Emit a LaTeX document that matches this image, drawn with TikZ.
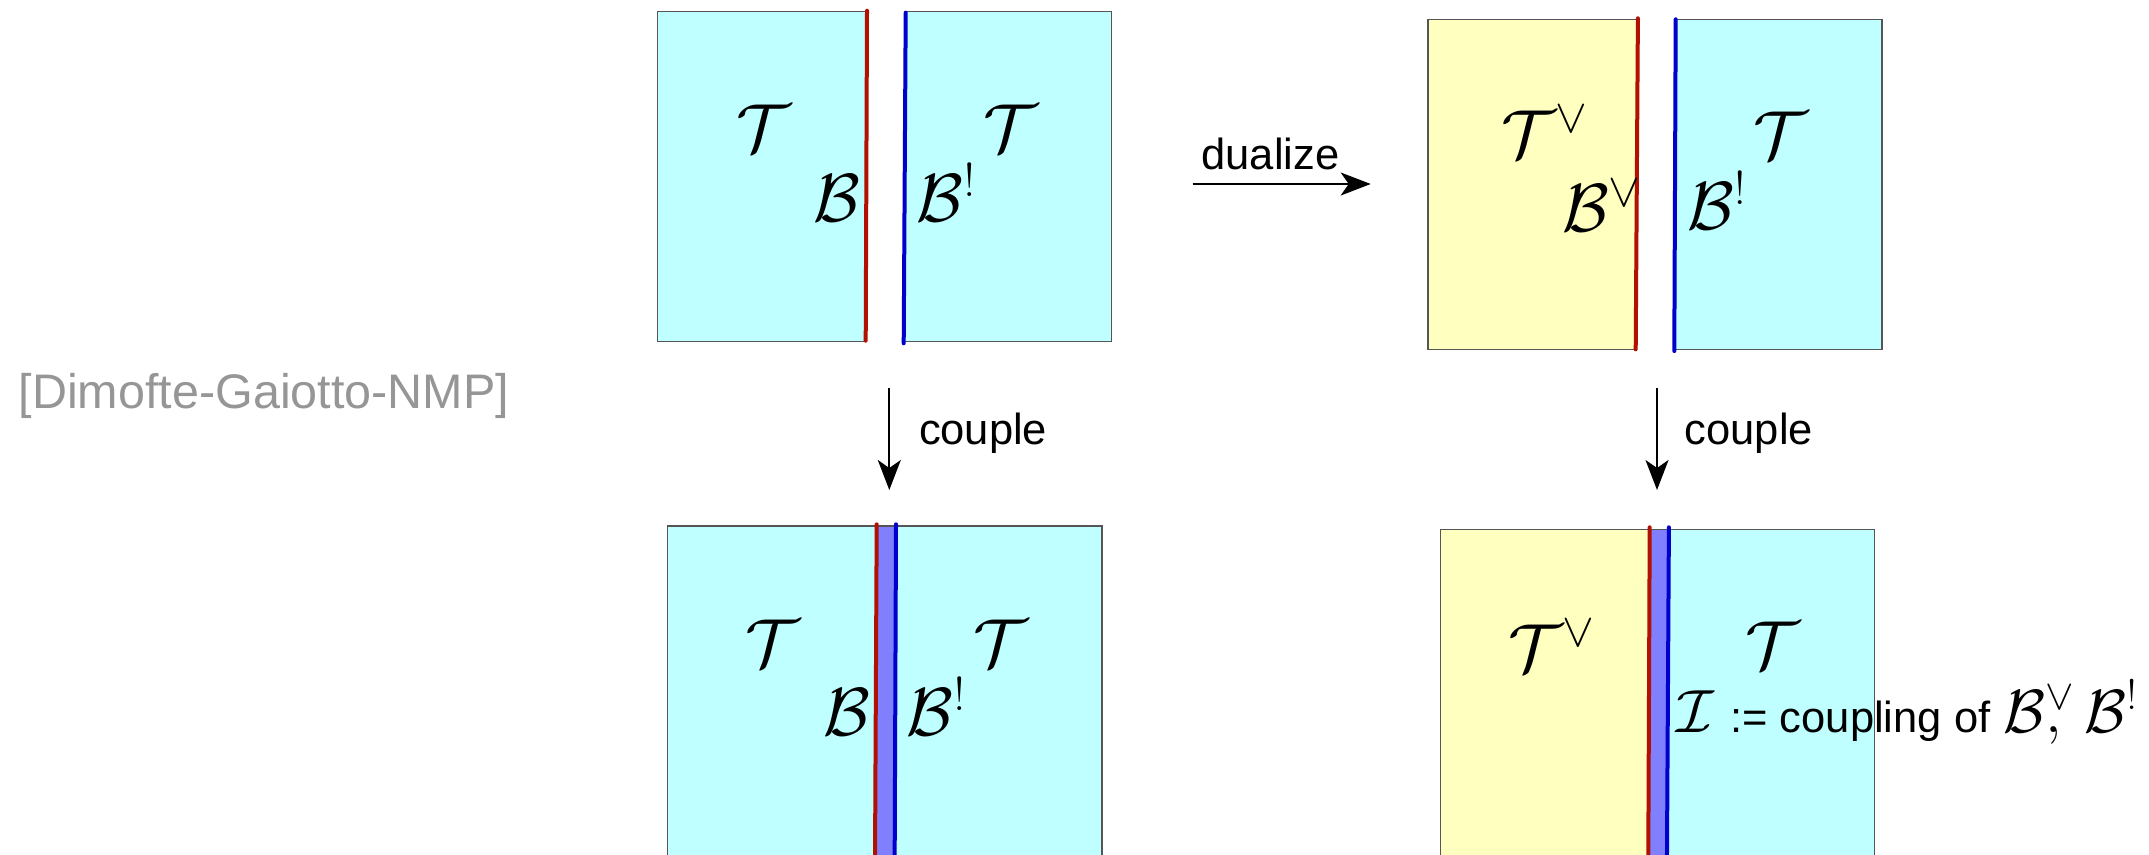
\RequirePackage{fix-cm}
\documentclass[tikz,border=0pt]{standalone}
\usepackage{fontspec}
\usetikzlibrary{arrows.meta}
\newfontfamily\labelsans{Liberation Sans}
\newcommand\mathsz{\fontsize{68}{80}\selectfont}
\newcommand\labelsz{\labelsans\fontsize{43.5}{50}\selectfont}
\definecolor{bulkcyan}{RGB}{191,255,255}
\definecolor{bulkyellow}{RGB}{255,255,192}
\definecolor{wallred}{RGB}{178,16,0}
\definecolor{wallblue}{RGB}{0,0,204}
\definecolor{slab}{RGB}{128,128,255}
\definecolor{edgegray}{RGB}{85,85,85}
\definecolor{citegray}{RGB}{150,150,150}
\tikzset{
  bulk/.style={draw=edgegray, line width=1.5pt},
  redwall/.style={draw=wallred, line width=4pt, line cap=round},
  bluewall/.style={draw=wallblue, line width=4pt, line cap=round},
  sym/.style={inner sep=0pt, outer sep=0pt, anchor=base west, font=\mathsz},
  word/.style={inner sep=0pt, outer sep=0pt, anchor=base west, font=\labelsz},
  mapto/.style={line width=2pt, -{Stealth[length=30pt, width=23pt, inset=8pt]}},
}
\begin{document}
\begin{tikzpicture}[x=1pt, y=-1pt]
\useasboundingbox (0,0) rectangle (2149,854);
\clip (0,0) rectangle (2149,854);

% citation
\node[word, font=\labelsans\fontsize{48.5}{56}\selectfont, text=citegray] (cite) at (18.7,408.5) {[Dimofte-Gaiotto-NMP]};

% ---- upper left: T with boundary B, T with boundary B^! ----
\fill[bulkcyan] (657.7,11.7) -- (867,11.7) -- (865.7,341.7) -- (657.7,341.7) -- cycle;
\draw[bulk] (867,11.7) -- (657.7,11.7) -- (657.7,341.7) -- (865.7,341.7);
\fill[bulkcyan] (905.7,11.7) -- (1111.7,11.7) -- (1111.7,341.7) -- (903.7,341.7) -- cycle;
\draw[bulk] (905.7,11.7) -- (1111.7,11.7) -- (1111.7,341.7) -- (903.7,341.7);
\draw[redwall] (867,10.7) -- (865.7,340.7);
\draw[bluewall] (905.7,12.7) -- (903.7,343.3);
\node[sym] (tlT1) at (736.7,151) {$\mathcal{T}$};
\node[sym] (tlB1) at (813.3,221) {$\mathcal{B}$};
\node[sym] (tlT2) at (983.3,151) {$\mathcal{T}$};
\node[sym] (tlB2) at (916.7,221) {$\mathcal{B}^{!}$};

% ---- upper right: dual theory T^vee with B^vee ----
\fill[bulkyellow] (1428,19.3) -- (1637.9,19.3) -- (1635.7,349.3) -- (1428,349.3) -- cycle;
\draw[bulk] (1637.9,19.3) -- (1428,19.3) -- (1428,349.3) -- (1635.7,349.3);
\fill[bulkcyan] (1675.7,19.3) -- (1881.8,19.3) -- (1881.8,349.3) -- (1674.3,349.3) -- cycle;
\draw[bulk] (1675.7,19.3) -- (1881.8,19.3) -- (1881.8,349.3) -- (1674.3,349.3);
\draw[redwall] (1637.9,18.3) -- (1635.7,349.3);
\draw[bluewall] (1675.7,19.3) -- (1674.3,351);
\node[sym] (trT1) at (1501.4,157) {$\mathcal{T}^{\vee}$};
\node[sym] (trB1) at (1562.1,231) {$\mathcal{B}^{\vee}$};
\node[sym] (trT2) at (1753.2,158) {$\mathcal{T}$};
\node[sym] (trB2) at (1687.1,229) {$\mathcal{B}^{!}$};

% ---- lower left: coupled walls ----
\fill[bulkcyan] (667.7,526) -- (876.7,526) -- (874.8,900) -- (667.7,900) -- cycle;
\fill[slab] (876.7,526) -- (896,526) -- (894.5,900) -- (874.8,900) -- cycle;
\fill[bulkcyan] (896,526) -- (1102,526) -- (1102,900) -- (894.5,900) -- cycle;
\draw[bulk] (667.7,900) -- (667.7,526) -- (1102,526) -- (1102,900);
\draw[redwall] (876.7,524.3) -- (874.8,900);
\draw[bluewall] (896,524.3) -- (894.5,900);
\node[sym] (blT1) at (745,666) {$\mathcal{T}$};
\node[sym] (blB1) at (823.3,735) {$\mathcal{B}$};
\node[sym] (blT2) at (973.3,666) {$\mathcal{T}$};
\node[sym] (blB2) at (906.7,735) {$\mathcal{B}^{!}$};

% ---- lower right: interface I ----
\fill[bulkyellow] (1440.3,529.3) -- (1649.7,529.3) -- (1648.1,900) -- (1440.3,900) -- cycle;
\fill[slab] (1649.7,529.3) -- (1668.9,529.3) -- (1666.7,900) -- (1648.1,900) -- cycle;
\fill[bulkcyan] (1668.9,529.3) -- (1874.4,529.3) -- (1874.4,900) -- (1666.7,900) -- cycle;
\draw[bulk] (1440.3,900) -- (1440.3,529.3) -- (1874.4,529.3) -- (1874.4,900);
\draw[redwall] (1649.7,527.3) -- (1648.1,900);
\draw[bluewall] (1668.9,527.3) -- (1666.7,900);
\node[sym] (brT1) at (1508.5,671) {$\mathcal{T}^{\vee}$};
\node[sym] (brT2) at (1745.4,668) {$\mathcal{T}$};
\node[sym, font=\fontsize{61}{72}\selectfont] (brI) at (1676.7,732)
  {$\mathcal{I}$\hspace{16pt}{\labelsz:= coupling of}\hspace{13pt}$\mathcal{B}\rlap{$,$}^{\vee}\mkern3mu\mathcal{B}^{!}$};

% ---- maps ----
\coordinate (d0) at (1192.7,184);
\coordinate (d1) at (1370.7,184);
\draw[mapto] (d0) -- (d1);
\node[word] (dlab) at (1201.5,169) {dualize};

\coordinate (c0) at (889.3,388);
\coordinate (c1) at (889.3,490);
\draw[mapto] (c0) -- (c1);
\node[word] (clab) at (919,444) {couple};

\coordinate (e0) at (1657,388);
\coordinate (e1) at (1657,490);
\draw[mapto] (e0) -- (e1);
\node[word] (elab) at (1684.8,444) {couple};
\end{tikzpicture}
\end{document}
